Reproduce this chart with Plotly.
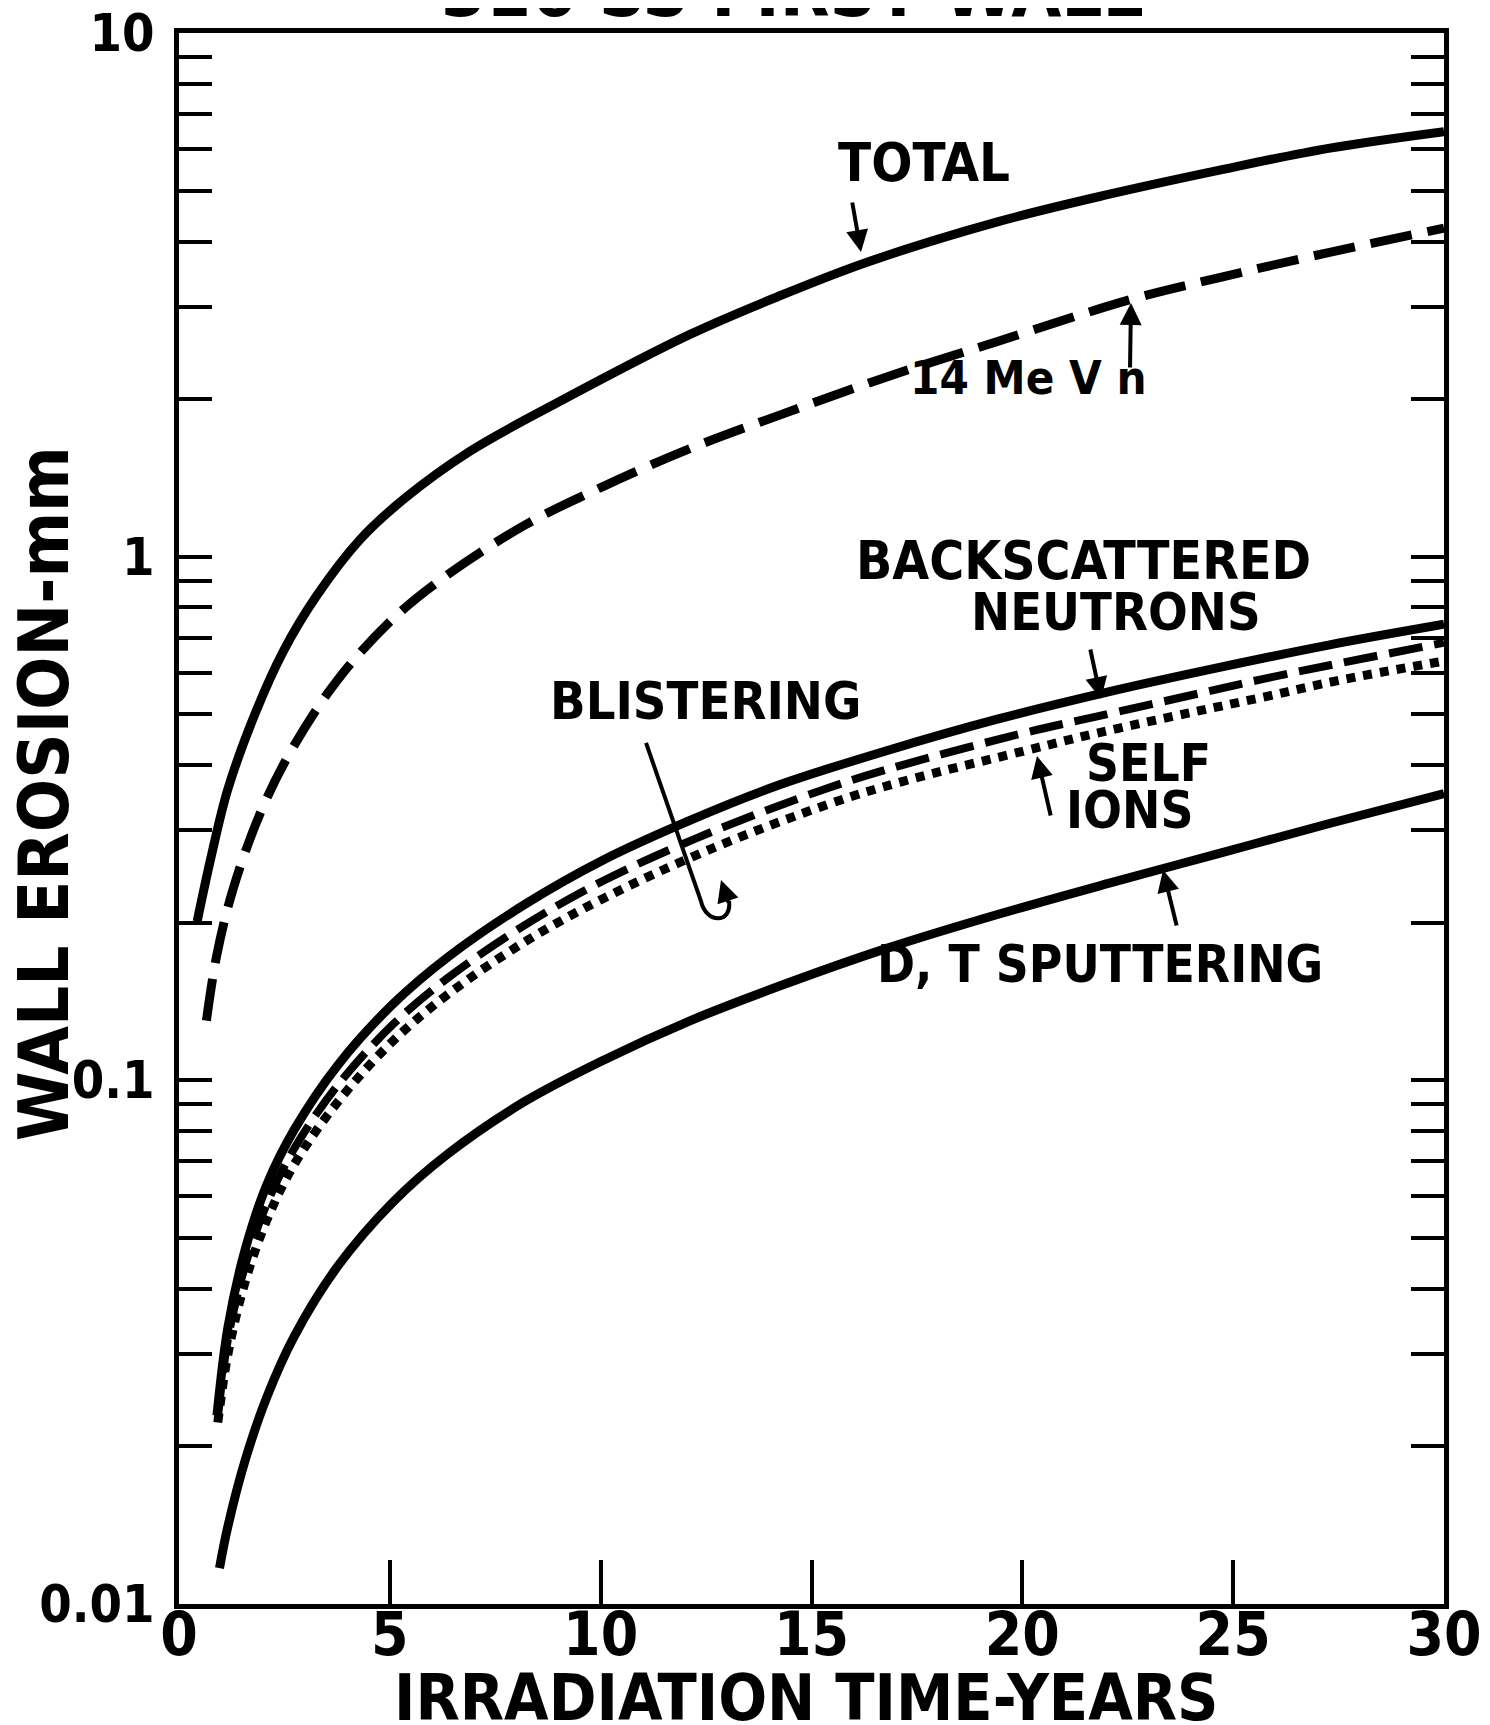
import plotly.graph_objects as go

# ---------------- data ----------------
total_years = [0.43, 0.77, 1.16, 1.82, 2.47, 3.25, 4.30, 5.34, 6.90, 8.99, 12.13, 14.21, 16.30, 19.43, 22.04, 24.65, 27.26, 30.0]
total_mm = [0.201, 0.269, 0.360, 0.505, 0.659, 0.839, 1.080, 1.290, 1.590, 1.972, 2.661, 3.141, 3.648, 4.365, 4.920, 5.470, 6.026, 6.486]

mev14_years = [0.65, 0.90, 1.29, 1.95, 2.73, 3.77, 5.08, 6.38, 8.21, 10.04, 12.13, 14.21, 16.82, 19.43, 22.57, 24.65, 27.26, 30.0]
mev14_mm = [0.130, 0.174, 0.233, 0.327, 0.436, 0.583, 0.762, 0.925, 1.15, 1.36, 1.61, 1.86, 2.21, 2.58, 3.10, 3.41, 3.81, 4.24]

backscat_years = [0.90, 1.16, 1.56, 2.08, 2.73, 3.77, 5.08, 6.38, 8.21, 10.04, 12.13, 14.21, 16.82, 19.43, 22.04, 24.65, 27.26, 30.0]
backscat_mm = [0.0229, 0.0337, 0.0472, 0.0631, 0.0804, 0.107, 0.140, 0.172, 0.217, 0.263, 0.314, 0.366, 0.427, 0.490, 0.552, 0.614, 0.678, 0.743]

selfion_years = [0.92, 1.16, 1.56, 2.08, 2.73, 3.77, 5.08, 6.38, 8.21, 10.04, 12.54, 15.41, 17.15, 20.01, 21.75, 24.05, 25.75, 27.48, 30.0]
selfion_mm = [0.0226, 0.032, 0.044, 0.058, 0.074, 0.098, 0.128, 0.157, 0.198, 0.240, 0.296, 0.362, 0.400, 0.460, 0.495, 0.545, 0.585, 0.625, 0.685]

blister_years = [0.92, 1.16, 1.56, 2.08, 2.73, 3.77, 5.08, 6.38, 8.21, 10.04, 12.54, 15.41, 17.15, 20.01, 21.75, 24.05, 25.75, 27.48, 30.0]
blister_mm = [0.0222, 0.030, 0.041, 0.054, 0.069, 0.091, 0.119, 0.146, 0.184, 0.222, 0.275, 0.337, 0.372, 0.425, 0.460, 0.505, 0.540, 0.580, 0.632]

dt_years = [0.96, 1.16, 1.56, 2.08, 2.73, 3.77, 5.08, 6.38, 8.21, 10.04, 12.13, 14.21, 16.82, 19.43, 22.04, 24.65, 27.26, 30.0]
dt_mm = [0.0117, 0.01406, 0.0187, 0.0248, 0.0324, 0.0442, 0.0586, 0.0724, 0.0912, 0.109, 0.130, 0.151, 0.179, 0.2075, 0.2377, 0.271, 0.309, 0.353]

x_tickvals = [0, 5, 10, 15, 20, 25, 30]
x_ticktext = ["0", "5", "10", "15", "20", "25", "30"]
y_major = [0.01, 0.1, 1, 10]
y_major_text = ["0.01", "0.1", "1", "10"]

# ---------------- geometry ----------------
W, H = 1490, 1725
ML, MR, MT, MB = 171, 54, 25, 129
PW, PH = W - ML - MR, H - MT - MB


def px(X):
    return (X - ML) / PW


def py(Y):
    return 1 - (Y - MT) / PH


BLACK = "black"
COND = "DejaVu Sans Condensed, DejaVu Sans, sans-serif"

fig = go.Figure()


def add_line(xs, ys, width, dash):
    fig.add_trace(go.Scatter(
        x=xs, y=ys, mode="lines",
        line=dict(color=BLACK, width=width, dash=dash, shape="spline", smoothing=1.0),
        showlegend=False, hoverinfo="skip"))


add_line(total_years, total_mm, 9, "solid")
add_line(mev14_years, mev14_mm, 9, "42px,16px")
add_line(backscat_years, backscat_mm, 9, "solid")
add_line(selfion_years, selfion_mm, 8, "34px,12px")
add_line(blister_years, blister_mm, 9, "9px,8px")
add_line(dt_years, dt_mm, 9, "solid")

# y ticks: every 1..9 x decade, labels only on decades
y_tickvals, y_ticktext = [], []
for dec in [0.01, 0.1, 1]:
    for m in range(1, 10):
        v = round(m * dec, 4)
        y_tickvals.append(v)
        y_ticktext.append(y_major_text[y_major.index(dec)] if m == 1 else "")
y_tickvals.append(10)
y_ticktext.append("10")

fig.update_layout(
    width=W, height=H, template="none",
    paper_bgcolor="white", plot_bgcolor="white",
    margin=dict(l=ML, r=MR, t=MT, b=MB),
    showlegend=False,
    xaxis=dict(
        range=[0, 30], tickvals=x_tickvals, ticktext=x_ticktext,
        ticks="inside", ticklen=44, tickwidth=4, tickcolor=BLACK,
        showline=True, linewidth=5, linecolor=BLACK, mirror=True,
        showgrid=False, zeroline=False,
        tickfont=dict(family=COND, size=60, color=BLACK, weight="bold"),
        ticklabelstandoff=-26, ticklabeloverflow="allow",
    ),
    yaxis=dict(
        type="log", range=[-2.0003, 1.0003], tickvals=y_tickvals, ticktext=y_ticktext,
        ticks="inside", ticklen=33, tickwidth=4, tickcolor=BLACK,
        showline=True, linewidth=5, linecolor=BLACK, mirror="ticks",
        showgrid=False, zeroline=False,
        tickfont=dict(family=COND, size=52, color=BLACK, weight="bold"),
        ticklabelstandoff=9, ticklabeloverflow="allow",
    ),
)

annotations = []
# axis titles
annotations.append(dict(text="IRRADIATION TIME-YEARS", x=px(798), y=py(1690), xref="paper", yref="paper",
                        showarrow=False, xanchor="center", yanchor="middle",
                        font=dict(family=COND, size=64, color=BLACK, weight="bold")))
annotations.append(dict(text="WALL EROSION-mm", x=px(36), y=py(786), xref="paper", yref="paper",
                        textangle=-90, showarrow=False, xanchor="center", yanchor="middle",
                        font=dict(family=COND, size=70, color=BLACK, weight="bold")))
# figure title (cut off at the top, as in the reference)
annotations.append(dict(text="316 SS FIRST WALL", x=px(784), y=py(-17), xref="paper", yref="paper",
                        showarrow=False, xanchor="center", yanchor="middle",
                        font=dict(family=COND, size=72, color=BLACK, weight="bold")))

labels = [
    ("TOTAL", 916, 154, 54),
    ("14 Me V n", 1020, 369, 47),
    ("BACKSCATTERED", 1075, 552, 53),
    ("NEUTRONS", 1108, 604, 52),
    ("BLISTERING", 697, 693, 52),
    ("SELF", 1140, 756, 51),
    ("IONS", 1122, 802, 51),
    ("D, T SPUTTERING", 1092, 957, 51),
]
for t, X, Y, sz in labels:
    annotations.append(dict(text=t, x=px(X), y=py(Y), xref="paper", yref="paper",
                            showarrow=False, xanchor="center", yanchor="middle",
                            font=dict(family=COND, size=sz, color=BLACK, weight="bold")))

arrows = [
    ((844, 193), (853, 244)),
    ((1122, 361), (1123, 295)),
    ((1082, 640), (1093, 691)),
    ((1043, 809), (1029, 748)),
    ((1169, 919), (1155, 862)),
    ((721, 896), (713, 872)),
]
for (tx, ty), (hx, hy) in arrows:
    annotations.append(dict(text="", x=px(hx), y=py(hy), xref="paper", yref="paper",
                            ax=tx - hx, ay=ty - hy, showarrow=True,
                            arrowhead=2, arrowsize=1.1, arrowwidth=4, arrowcolor=BLACK))
fig.update_layout(annotations=annotations)

# blistering hook leader line
hook = [(638, 735), (693, 893), (698, 916), (724, 916), (721, 893)]
path = "M {:.4f},{:.4f} L {:.4f},{:.4f} C {:.4f},{:.4f} {:.4f},{:.4f} {:.4f},{:.4f}".format(
    px(hook[0][0]), py(hook[0][1]), px(hook[1][0]), py(hook[1][1]),
    px(hook[2][0]), py(hook[2][1]), px(hook[3][0]), py(hook[3][1]), px(hook[4][0]), py(hook[4][1]))
fig.add_shape(type="path", path=path, xref="paper", yref="paper",
              line=dict(color=BLACK, width=4))

fig.write_html("out.html")
